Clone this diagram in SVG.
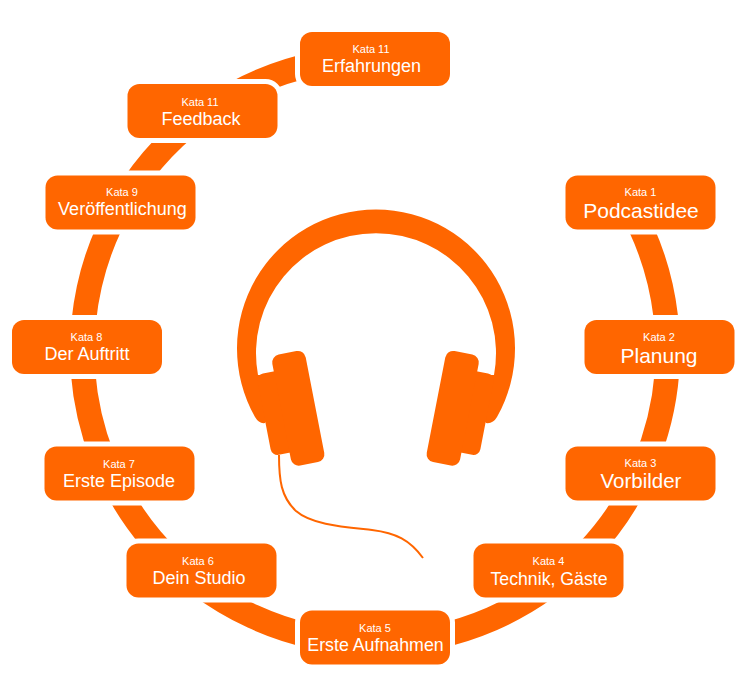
<svg xmlns="http://www.w3.org/2000/svg" width="750" height="700" viewBox="0 0 750 700">
<style>
.box{fill:#ff6600;stroke:#fff;stroke-width:10;paint-order:stroke}
.k,.t{fill:#fff;font-family:"Liberation Sans",Arial,sans-serif;text-anchor:middle}
.k{font-size:11px}
.t{font-size:18px}
.b{font-size:21px}
.hp{fill:#ff6600}
</style>
<rect width="750" height="700" fill="#fff"/>
<g id="connectors">
<path d="M629 205 A292.700 292.700 0 1 1 320 63" fill="none" stroke="#ff6600" stroke-width="24.500"/>
</g>
<g id="headphones">
<path class="hp" d="M255 417 A139 139 0 1 1 497 417 Q493 424 486 423 L470 400 L480 375 L494 375 A120 120 0 1 0 258 375 L272 375 L282 400 L265 423 Q259 424 255 417 Z"/>
<rect class="hp" x="-35" y="-41" width="35" height="83" rx="7" transform="translate(298.300 408.300) rotate(-11)"/>
<rect class="hp" x="-17" y="-56.500" width="34" height="113" rx="8" transform="translate(298.300 408.300) rotate(-11)"/>
<rect class="hp" x="0" y="-41" width="35" height="83" rx="7" transform="translate(452.700 408.300) rotate(11)"/>
<rect class="hp" x="-17" y="-56.500" width="34" height="113" rx="8" transform="translate(452.700 408.300) rotate(11)"/>
<path d="M279 455 C279 480 281 497 296 511 C312 525 345 527 372 530 C396 533 410 540 423 558" fill="none" stroke="#ff6600" stroke-width="2"/>
</g>
<g id="n1"><rect class="box" x="565.500" y="175.500" width="150" height="54" rx="12"/><text class="k" x="640.500" y="196">Kata 1</text><text class="t b" x="641" y="218">Podcastidee</text></g>
<g id="n2"><rect class="box" x="584.500" y="320" width="150" height="54" rx="12"/><text class="k" x="659" y="341">Kata 2</text><text class="t b" x="659" y="363">Planung</text></g>
<g id="n3"><rect class="box" x="565.500" y="446.500" width="150" height="54" rx="12"/><text class="k" x="640.500" y="467">Kata 3</text><text class="t" style="font-size:20.500px" x="641" y="488">Vorbilder</text></g>
<g id="n4"><rect class="box" x="473.500" y="543.500" width="150" height="54" rx="12"/><text class="k" x="548.500" y="565">Kata 4</text><text class="t" style="font-size:17.700px" x="549" y="585">Technik, Gäste</text></g>
<g id="n5"><rect class="box" x="300" y="610.500" width="150" height="54" rx="12"/><text class="k" x="375" y="632">Kata 5</text><text class="t" style="font-size:17.800px" x="375.500" y="651">Erste Aufnahmen</text></g>
<g id="n6"><rect class="box" x="126.500" y="543.500" width="150" height="54" rx="12"/><text class="k" x="198" y="565">Kata 6</text><text class="t" x="199" y="584">Dein Studio</text></g>
<g id="n7"><rect class="box" x="44.500" y="446.500" width="150" height="54" rx="12"/><text class="k" x="119" y="468">Kata 7</text><text class="t" x="119" y="487">Erste Episode</text></g>
<g id="n8"><rect class="box" x="12" y="320" width="150" height="54" rx="12"/><text class="k" x="86.500" y="341">Kata 8</text><text class="t" x="87" y="360">Der Auftritt</text></g>
<g id="n9"><rect class="box" x="45.500" y="175.500" width="150" height="54" rx="12"/><text class="k" x="122" y="196">Kata 9</text><text class="t" x="122.500" y="215">Veröffentlichung</text></g>
<g id="n10"><rect class="box" x="127.500" y="84" width="150" height="54" rx="12"/><text class="k" x="200" y="106">Kata 11</text><text class="t" x="201" y="125">Feedback</text></g>
<g id="n11"><rect class="box" x="300" y="32" width="150" height="54" rx="12"/><text class="k" x="371" y="53">Kata 11</text><text class="t" x="371.500" y="72">Erfahrungen</text></g>
</svg>
